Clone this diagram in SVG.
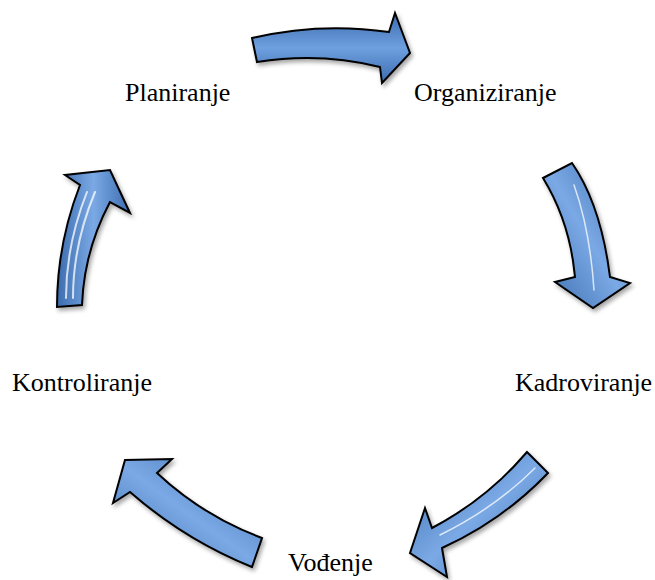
<svg xmlns="http://www.w3.org/2000/svg" width="655" height="580" viewBox="0 0 655 580">
  <style>
    .lbl { font-family: "Liberation Serif", "Times New Roman", serif; font-size: 26px; fill: #000; }
    .arr { stroke: #000; stroke-width: 2; stroke-linejoin: miter; filter: url(#sh); }
    .hl { fill: none; stroke: #ffffff; stroke-linecap: round; opacity: 0.75; }
  </style>
  <defs>
    <filter id="sh" x="-20%" y="-20%" width="140%" height="140%">
      <feDropShadow dx="2" dy="3" stdDeviation="2" flood-color="#000" flood-opacity="0.35"/>
    </filter>
    <linearGradient id="gV" x1="0" y1="0" x2="0" y2="1">
      <stop offset="0" stop-color="#3c6cae"/>
      <stop offset="0.5" stop-color="#6e9fdf"/>
      <stop offset="1" stop-color="#3c6cae"/>
    </linearGradient>
    <linearGradient id="gH" x1="0" y1="0" x2="1" y2="0">
      <stop offset="0" stop-color="#3c6cae"/>
      <stop offset="0.5" stop-color="#7aa9e5"/>
      <stop offset="1" stop-color="#3c6cae"/>
    </linearGradient>
    <linearGradient id="gD1" x1="0" y1="0" x2="1" y2="1">
      <stop offset="0" stop-color="#3c6cae"/>
      <stop offset="0.5" stop-color="#7aa9e5"/>
      <stop offset="1" stop-color="#3c6cae"/>
    </linearGradient>
    <linearGradient id="gD2" x1="1" y1="0" x2="0" y2="1">
      <stop offset="0" stop-color="#3c6cae"/>
      <stop offset="0.5" stop-color="#7aa9e5"/>
      <stop offset="1" stop-color="#3c6cae"/>
    </linearGradient>
  </defs>

  <g id="connectors">
    <g id="arrow-plan-org">
      <path class="arr" fill="url(#gV)" d="M252,38 Q320,22 389,32 L395,13 L410,53 L382,83 L380,67 Q320,52 257,62 Z"/>
    </g>
    <g id="arrow-org-kad">
      <path class="arr" fill="url(#gD2)" d="M543,178 L572,163 Q601,205 610,277 L630,283 L593,308 L555,282 L575,277 Q570,222 543,178 Z"/>
      <path class="hl" stroke-width="1.5" d="M574,185 Q590,230 594,290"/>
    </g>
    <g id="arrow-kad-vod">
      <path class="arr" fill="url(#gD1)" d="M527,452 L548,473 Q502,521 442,548 L447,577 L410,553 L425,508 L432,528 Q487,499 527,452 Z"/>
      <path class="hl" stroke-width="1.5" d="M535,468 Q495,508 440,535"/>
    </g>
    <g id="arrow-vod-kon">
      <path class="arr" fill="url(#gD2)" d="M125,460 L172,459 L157,473 Q203,516 262,538 L252,567 Q185,540 130,492 L113,503 Z"/>
    </g>
    <g id="arrow-kon-plan">
      <path class="arr" fill="url(#gH)" d="M57,307 Q57,244 80,185 L65,175 L110,170 L130,213 L110,202 Q84,251 82,305 Z"/>
      <path class="hl" stroke-width="2" d="M66,298 Q66,245 87,192"/>
      <path class="hl" stroke-width="2" d="M73,298 Q73,245 95,192"/>
    </g>
  </g>

  <g id="node-planiranje"><text class="lbl" x="125" y="101">Planiranje</text></g>
  <g id="node-organiziranje"><text class="lbl" x="414" y="101">Organiziranje</text></g>
  <g id="node-kadroviranje"><text class="lbl" x="515" y="391">Kadroviranje</text></g>
  <g id="node-kontroliranje"><text class="lbl" x="12" y="391">Kontroliranje</text></g>
  <g id="node-vodenje"><text class="lbl" x="288" y="571">Vođenje</text></g>
</svg>
